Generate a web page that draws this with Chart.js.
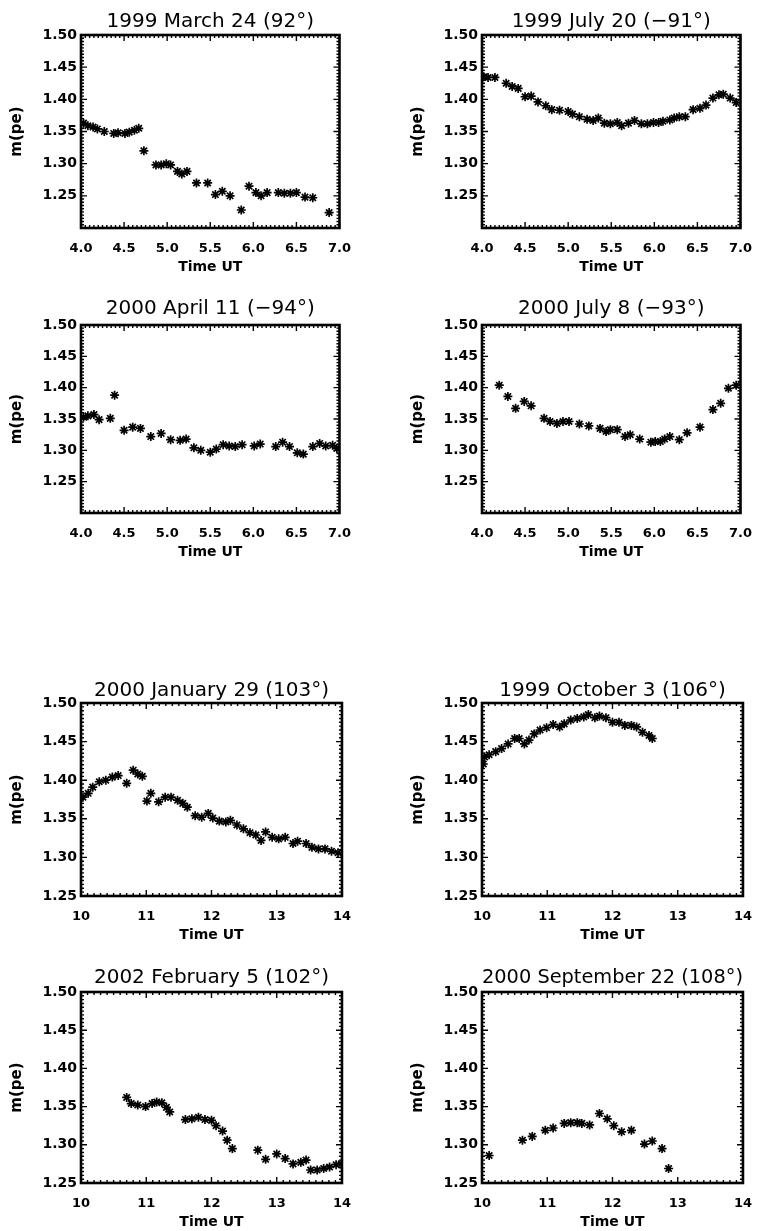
<!DOCTYPE html>
<html>
<head>
<meta charset="utf-8">
<script src="https://cdn.jsdelivr.net/npm/chart.js@4.4.0/dist/chart.umd.min.js"></script>
<style>
  body { margin: 0; background: #fff; }
  #page { position: relative; width: 768px; height: 1231px; overflow: hidden; }
  #page canvas { position: absolute; }
</style>
</head>
<body>
<div id="page"></div>
<script>
// tick labels
const morningTicks = [4.0, 4.5, 5.0, 5.5, 6.0, 6.5, 7.0];
const noonTicks = [10, 11, 12, 13, 14];
const mpeTicks = [1.25, 1.30, 1.35, 1.40, 1.45, 1.50];

// 1999 March 24
const mar99Time = [4.03, 4.08, 4.14, 4.19, 4.27, 4.38, 4.43, 4.51, 4.56, 4.62, 4.67, 4.73, 4.87, 4.93, 4.99, 5.04, 5.12, 5.17, 5.23, 5.34, 5.47, 5.56, 5.64, 5.73, 5.86, 5.95, 6.03, 6.09, 6.16, 6.29, 6.36, 6.43, 6.50, 6.60, 6.69, 6.88];
const mar99Mpe = [1.363, 1.359, 1.357, 1.354, 1.350, 1.347, 1.348, 1.347, 1.349, 1.352, 1.355, 1.320, 1.298, 1.298, 1.300, 1.298, 1.288, 1.284, 1.288, 1.270, 1.270, 1.252, 1.257, 1.250, 1.228, 1.265, 1.255, 1.250, 1.255, 1.255, 1.254, 1.254, 1.255, 1.248, 1.247, 1.224];

// 1999 July 20
const jul99Time = [4.02, 4.07, 4.15, 4.28, 4.35, 4.42, 4.50, 4.57, 4.65, 4.74, 4.81, 4.90, 5.00, 5.05, 5.13, 5.22, 5.29, 5.35, 5.42, 5.49, 5.57, 5.62, 5.70, 5.77, 5.85, 5.92, 5.99, 6.05, 6.10, 6.18, 6.23, 6.29, 6.36, 6.45, 6.53, 6.60, 6.68, 6.75, 6.80, 6.88, 6.95];
const jul99Mpe = [1.435, 1.434, 1.434, 1.425, 1.420, 1.417, 1.404, 1.405, 1.396, 1.390, 1.384, 1.383, 1.381, 1.377, 1.373, 1.369, 1.367, 1.371, 1.363, 1.362, 1.364, 1.359, 1.363, 1.367, 1.362, 1.362, 1.364, 1.364, 1.366, 1.368, 1.371, 1.373, 1.373, 1.384, 1.386, 1.391, 1.402, 1.407, 1.408, 1.402, 1.395];

// 2000 April 11
const apr00Time = [4.03, 4.08, 4.15, 4.21, 4.34, 4.39, 4.50, 4.60, 4.69, 4.81, 4.93, 5.04, 5.15, 5.22, 5.31, 5.39, 5.50, 5.57, 5.65, 5.72, 5.79, 5.87, 6.01, 6.08, 6.26, 6.34, 6.42, 6.51, 6.58, 6.69, 6.77, 6.84, 6.92, 6.97];
const apr00Mpe = [1.353, 1.355, 1.357, 1.349, 1.351, 1.388, 1.332, 1.337, 1.335, 1.322, 1.327, 1.317, 1.316, 1.318, 1.304, 1.300, 1.297, 1.302, 1.309, 1.307, 1.306, 1.309, 1.307, 1.310, 1.306, 1.313, 1.306, 1.296, 1.294, 1.306, 1.311, 1.307, 1.308, 1.303];

// 2000 July 8
const jul00Time = [4.20, 4.30, 4.39, 4.49, 4.57, 4.72, 4.79, 4.87, 4.94, 5.01, 5.13, 5.24, 5.37, 5.44, 5.49, 5.57, 5.66, 5.72, 5.83, 5.96, 6.01, 6.07, 6.12, 6.18, 6.29, 6.38, 6.53, 6.68, 6.77, 6.86, 6.95];
const jul00Mpe = [1.404, 1.386, 1.367, 1.378, 1.371, 1.351, 1.346, 1.343, 1.346, 1.346, 1.342, 1.339, 1.335, 1.330, 1.333, 1.333, 1.322, 1.325, 1.318, 1.313, 1.314, 1.314, 1.318, 1.322, 1.317, 1.328, 1.337, 1.365, 1.375, 1.399, 1.404];

// 2000 January 29
const jan00Time = [10.03, 10.11, 10.18, 10.28, 10.38, 10.48, 10.57, 10.70, 10.80, 10.87, 10.94, 11.01, 11.07, 11.19, 11.29, 11.38, 11.48, 11.56, 11.63, 11.75, 11.85, 11.95, 12.02, 12.12, 12.22, 12.29, 12.39, 12.49, 12.59, 12.68, 12.76, 12.83, 12.93, 13.03, 13.13, 13.25, 13.32, 13.45, 13.54, 13.64, 13.74, 13.84, 13.94];
const jan00Mpe = [1.378, 1.383, 1.391, 1.398, 1.400, 1.404, 1.406, 1.396, 1.413, 1.408, 1.405, 1.373, 1.383, 1.372, 1.378, 1.378, 1.374, 1.370, 1.365, 1.354, 1.352, 1.357, 1.351, 1.347, 1.346, 1.348, 1.342, 1.337, 1.332, 1.329, 1.322, 1.333, 1.326, 1.324, 1.326, 1.318, 1.321, 1.318, 1.313, 1.311, 1.311, 1.308, 1.306];

// 1999 October 3
const oct99Time = [10.02, 10.04, 10.11, 10.21, 10.30, 10.40, 10.50, 10.57, 10.65, 10.72, 10.80, 10.89, 10.99, 11.09, 11.19, 11.26, 11.36, 11.46, 11.56, 11.63, 11.73, 11.80, 11.90, 12.00, 12.10, 12.19, 12.29, 12.37, 12.46, 12.56, 12.61];
const oct99Mpe = [1.421, 1.430, 1.433, 1.437, 1.441, 1.447, 1.454, 1.454, 1.447, 1.452, 1.460, 1.465, 1.468, 1.472, 1.469, 1.473, 1.478, 1.480, 1.482, 1.485, 1.481, 1.483, 1.481, 1.475, 1.475, 1.471, 1.471, 1.469, 1.462, 1.458, 1.454];

// 2002 February 5
const feb02Time = [10.70, 10.77, 10.87, 10.99, 11.09, 11.16, 11.24, 11.31, 11.36, 11.60, 11.70, 11.80, 11.90, 12.00, 12.07, 12.17, 12.24, 12.32, 12.71, 12.83, 13.00, 13.13, 13.25, 13.37, 13.45, 13.52, 13.62, 13.72, 13.81, 13.91, 13.99];
const feb02Mpe = [1.362, 1.354, 1.352, 1.350, 1.354, 1.356, 1.355, 1.349, 1.343, 1.333, 1.334, 1.336, 1.333, 1.332, 1.325, 1.318, 1.306, 1.295, 1.293, 1.281, 1.288, 1.282, 1.275, 1.277, 1.280, 1.267, 1.267, 1.269, 1.271, 1.274, 1.275];

// 2000 September 22
const sep00Time = [10.11, 10.62, 10.77, 10.97, 11.09, 11.26, 11.36, 11.46, 11.53, 11.65, 11.80, 11.92, 12.02, 12.14, 12.29, 12.49, 12.61, 12.76, 12.86];
const sep00Mpe = [1.286, 1.306, 1.311, 1.319, 1.322, 1.328, 1.329, 1.329, 1.328, 1.326, 1.341, 1.334, 1.325, 1.317, 1.319, 1.301, 1.305, 1.295, 1.269];

const FONT = 'DejaVu Sans';
const TITLE_SIZE = 20;
const LEFT = 81, RIGHT = 12, TOP = 35, BOTTOM = 48;

// box = [left, top, right, bottom] of the plot frame, gap = title centre above frame
const panels = [
    { title: '1999 March 24 (92°)', time: mar99Time, mpe: mar99Mpe, morning: true, box: [81, 35, 352, 228], gap: 13 },
    { title: '1999 July 20 (\u221291°)', time: jul99Time, mpe: jul99Mpe, morning: true, box: [482, 35, 753, 228], gap: 13 },
    { title: '2000 April 11 (\u221294°)', time: apr00Time, mpe: apr00Mpe, morning: true, box: [81, 325, 352, 513], gap: 16 },
    { title: '2000 July 8 (\u221293°)', time: jul00Time, mpe: jul00Mpe, morning: true, box: [482, 325, 753, 513], gap: 16 },
    { title: '2000 January 29 (103°)', time: jan00Time, mpe: jan00Mpe, morning: false, box: [81, 703, 352, 896], gap: 12 },
    { title: '1999 October 3 (106°)', time: oct99Time, mpe: oct99Mpe, morning: false, box: [482, 703, 753, 896], gap: 12 },
    { title: '2002 February 5 (102°)', time: feb02Time, mpe: feb02Mpe, morning: false, box: [81, 992, 352, 1183], gap: 14 },
    { title: '2000 September 22 (108°)', time: sep00Time, mpe: sep00Mpe, morning: false, box: [482, 992, 753, 1183], gap: 14 },
];

// IDL style frame: thick box with ticks pointing inwards on all four sides
const frame = {
    id: 'frame',
    afterDatasetsDraw(chart, args, opts) {
        const { ctx, chartArea: a, scales: { x, y } } = chart;
        ctx.save();
        ctx.strokeStyle = '#000';
        ctx.lineWidth = 1.4;
        ctx.beginPath();
        let n = Math.round((x.max - x.min) / opts.xMinor);
        for (let k = 0; k <= n; k++) {
            const v = x.min + k * opts.xMinor;
            const r = v / opts.xMajor;
            const len = Math.abs(r - Math.round(r)) < 1e-6 ? 6 : 3;
            const px = x.getPixelForValue(v);
            ctx.moveTo(px, a.bottom); ctx.lineTo(px, a.bottom - len);
            ctx.moveTo(px, a.top); ctx.lineTo(px, a.top + len);
        }
        n = Math.round((y.max - y.min) / opts.yMinor);
        for (let k = 0; k <= n; k++) {
            const v = y.min + k * opts.yMinor;
            const r = v / 0.05;
            const len = Math.abs(r - Math.round(r)) < 1e-6 ? 6 : 3;
            const py = y.getPixelForValue(v);
            ctx.moveTo(a.left, py); ctx.lineTo(a.left + len, py);
            ctx.moveTo(a.right, py); ctx.lineTo(a.right - len, py);
        }
        ctx.stroke();
        ctx.lineWidth = 2.6;
        ctx.strokeRect(a.left, a.top, a.right - a.left, a.bottom - a.top);
        ctx.restore();
    }
};

const page = document.getElementById('page');

panels.forEach(p => {
    const [l, t, r, b] = p.box;
    const cv = document.createElement('canvas');
    cv.width = r - l + LEFT + RIGHT;
    cv.height = b - t + TOP + BOTTOM;
    cv.style.left = (l - LEFT) + 'px';
    cv.style.top = (t - TOP) + 'px';
    page.appendChild(cv);

    const xTicks = p.morning ? morningTicks : noonTicks;
    const padTop = TOP - p.gap - TITLE_SIZE / 2;

    new Chart(cv, {
        type: 'scatter',
        data: {
            datasets: [{
                data: p.time.map((tm, k) => ({ x: tm, y: p.mpe[k] })),
                pointStyle: 'star',
                pointRadius: 4.5,
                borderColor: '#000',
                backgroundColor: '#000',
                borderWidth: 1.7
            }]
        },
        options: {
            responsive: false,
            animation: false,
            events: [],
            layout: { padding: { left: 0, right: RIGHT, top: 0, bottom: 0 } },
            plugins: {
                legend: { display: false },
                tooltip: { enabled: false },
                title: {
                    display: true,
                    fullSize: false,
                    text: p.title,
                    color: '#000',
                    font: { family: FONT, size: TITLE_SIZE, weight: 'normal', lineHeight: 1 },
                    padding: { top: padTop, bottom: TOP - padTop - TITLE_SIZE }
                },
                frame: { xMinor: p.morning ? 0.05 : 0.1, xMajor: p.morning ? 0.5 : 1, yMinor: 0.005 }
            },
            scales: {
                x: {
                    type: 'linear',
                    min: xTicks[0],
                    max: xTicks[xTicks.length - 1],
                    afterBuildTicks: s => { s.ticks = xTicks.map(v => ({ value: v })); },
                    afterFit: s => { s.height = BOTTOM; },
                    grid: { display: false, drawTicks: false },
                    border: { display: false },
                    ticks: {
                        color: '#000',
                        padding: 13,
                        maxRotation: 0,
                        font: { family: FONT, size: 13, weight: 'bold' },
                        callback: v => p.morning ? v.toFixed(1) : String(v)
                    },
                    title: {
                        display: true,
                        text: 'Time UT',
                        color: '#000',
                        font: { family: FONT, size: 14, weight: 'bold', lineHeight: 1 },
                        padding: { top: 0, bottom: 2 }
                    }
                },
                y: {
                    type: 'linear',
                    min: p.morning ? 1.20 : 1.25,
                    max: 1.50,
                    afterBuildTicks: s => { s.ticks = mpeTicks.map(v => ({ value: v })); },
                    afterFit: s => { s.width = LEFT; },
                    grid: { display: false, drawTicks: false },
                    border: { display: false },
                    ticks: {
                        color: '#000',
                        padding: 4,
                        font: { family: FONT, size: 14, weight: 'bold' },
                        callback: v => v.toFixed(2)
                    },
                    title: {
                        display: true,
                        text: 'm(pe)',
                        color: '#000',
                        font: { family: FONT, size: 15, weight: 'bold', lineHeight: 1 },
                        padding: { top: 10, bottom: 0 }
                    }
                }
            }
        },
        plugins: [frame]
    });
});
</script>
</body>
</html>
